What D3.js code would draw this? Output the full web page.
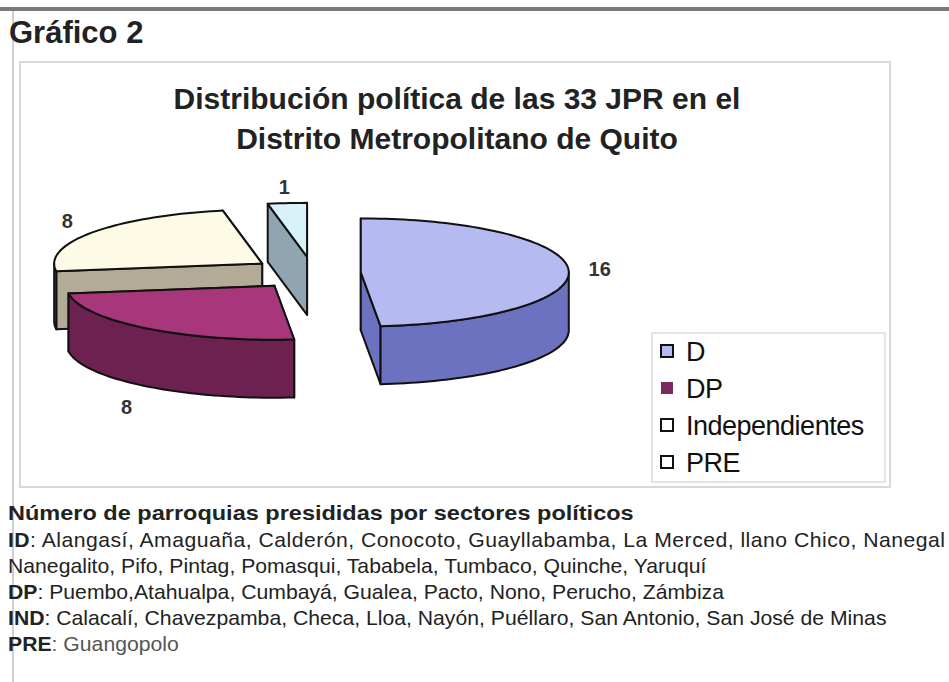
<!doctype html>
<meta charset="utf-8">
<title>Gráfico 2</title>
<script src="https://cdnjs.cloudflare.com/ajax/libs/d3/7.8.5/d3.min.js"></script>
<style>
body { margin: 0; background: #fff; }
svg { display: block; font-family: "Liberation Sans", Arial, sans-serif; }
</style>
<svg id="svg" width="949" height="682"></svg>
<script>
// data
var categories = ["D", "DP", "Independientes", "PRE"];
var values = [16, 8, 8, 1];
var topColors = ["#b5baf0", "#a8367a", "#fdfbe6", "#d8f2f9"];
var sideColors = ["#6c71c0", "#6c2150", "#b4ab97", "#8fa5b2"];
var explode = [0.23, 0.3, 0.3, 0.3];
var notes = [
  ["ID", ":  Alangasí, Amaguaña, Calderón, Conocoto, Guayllabamba, La Merced, llano Chico, Nanegal"],
  ["", "Nanegalito, Pifo, Pintag, Pomasqui, Tababela, Tumbaco, Quinche, Yaruquí"],
  ["DP", ": Puembo,Atahualpa, Cumbayá, Gualea, Pacto, Nono, Perucho, Zámbiza"],
  ["IND", ": Calacalí, Chavezpamba, Checa, Lloa, Nayón, Puéllaro, San Antonio, San José de Minas"],
  ["PRE", ": Guangopolo"]
];

var svg = d3.select("svg");

// page decoration
svg.append("rect").attr("x", 0).attr("y", 7).attr("width", 949).attr("height", 4).attr("fill", "#7a7a7a");
svg.append("line").attr("x1", 13).attr("x2", 13).attr("y1", 11).attr("y2", 682)
  .attr("stroke", "#cfcfcf").attr("stroke-width", 2);
svg.append("text").attr("x", 9).attr("y", 43)
  .attr("font-size", 31).attr("font-weight", "bold").attr("fill", "#222")
  .text("Gráfico 2");

// chart frame
svg.append("rect").attr("x", 20).attr("y", 62).attr("width", 870).attr("height", 425)
  .attr("fill", "#fff").attr("stroke", "#d9d9d9").attr("stroke-width", 2);

svg.append("text").attr("x", 457).attr("text-anchor", "middle")
  .attr("font-size", 30).attr("font-weight", "bold").attr("fill", "#222")
  .selectAll("tspan")
  .data(["Distribución política de las 33 JPR en el", "Distrito Metropolitano de Quito"])
  .join("tspan").attr("x", 457).attr("y", function(d, i) { return 109 + i * 40; })
  .text(function(d) { return d; });

// 3d pie
var cx = 313, cy = 273, rx = 208, ry = 54, depth = 58;
var sx = d3.scaleLinear().domain([-1, 1]).range([-rx, rx]);
var sy = d3.scaleLinear().domain([-1, 1]).range([-ry, ry]);
var pie = d3.pie().sort(null).startAngle(0).endAngle(2 * Math.PI);
var arcs = pie(values);
var line = d3.line();

function pt(c, a, r, h) {
  return [c[0] + sx(r * Math.sin(a)), c[1] + sy(-r * Math.cos(a)) + (h || 0)];
}
function arcPts(c, a0, a1, h) {
  var n = Math.max(2, Math.ceil((a1 - a0) / 0.03));
  return d3.range(n + 1).map(function(k) { return pt(c, a0 + (a1 - a0) * k / n, 1, h); });
}

arcs.forEach(function(d, i) {
  d.index = i;
  d.mid = (d.startAngle + d.endAngle) / 2;
  d.c = pt([cx, cy], d.mid, explode[i], 0);
});

var order = arcs.slice().sort(function(a, b) { return -Math.cos(a.mid) - -Math.cos(b.mid); });

var g = svg.append("g").attr("stroke", "#111").attr("stroke-width", 2).attr("stroke-linejoin", "round");

order.forEach(function(d) {
  var s = g.append("g");
  var c = d.c, i = d.index;
  // cut faces, the one turned away from the viewer first
  var walls = [
    { a: d.startAngle, v: -Math.sin(d.startAngle) },
    { a: d.endAngle, v: Math.sin(d.endAngle) }
  ].sort(function(p, q) { return p.v - q.v; });
  walls.forEach(function(w) {
    var e = pt(c, w.a, 1, 0);
    s.append("path").attr("fill", sideColors[i])
      .attr("d", line([c, e, [e[0], e[1] + depth], [c[0], c[1] + depth]]) + "Z");
  });
  var f0 = Math.max(d.startAngle, Math.PI / 2), f1 = Math.min(d.endAngle, 3 * Math.PI / 2);
  if (f1 > f0) {
    var topA = arcPts(c, f0, f1, 0), botA = arcPts(c, f0, f1, depth).reverse();
    s.append("path").attr("fill", sideColors[i]).attr("d", line(topA.concat(botA)) + "Z");
  }
  s.append("path").attr("fill", topColors[i])
    .attr("d", line([c].concat(arcPts(c, d.startAngle, d.endAngle, 0))) + "Z");
});

// data labels
svg.append("g").selectAll("text").data(arcs).join("text")
  .attr("font-size", 20).attr("font-weight", "bold").attr("fill", "#333")
  .attr("text-anchor", "middle").attr("dy", "0.35em")
  .attr("x", function(d) { return pt(d.c, d.mid, 1.15, 0)[0]; })
  .attr("y", function(d) {
    var p = pt(d.c, d.mid, 1.2, 0), v = -Math.cos(d.mid);
    return v > 0.3 ? p[1] + depth + 12 : (v < -0.3 ? p[1] - 5 : p[1]);
  })
  .text(function(d) { return d.value; });

// legend
var lg = svg.append("g");
lg.append("rect").attr("x", 652).attr("y", 333).attr("width", 233).attr("height", 149)
  .attr("fill", "#fff").attr("stroke", "#dcdcdc").attr("stroke-width", 1.5);
var li = lg.selectAll("g.item").data(categories).join("g").attr("class", "item")
  .attr("transform", function(d, i) { return "translate(660," + (351 + i * 37) + ")"; });
li.append("rect").attr("x", 1).attr("y", -6).attr("width", 12).attr("height", 12)
  .attr("fill", function(d, i) { return i === 1 ? "#7a2a5c" : (i === 0 ? topColors[0] : "#fff"); })
  .attr("stroke", function(d, i) { return i === 1 ? "none" : "#111"; })
  .attr("stroke-width", 2);
li.append("text").attr("x", 26).attr("dy", "0.36em").attr("font-size", 27)
  .attr("fill", "#111").attr("letter-spacing", -0.5)
  .text(function(d) { return d; });

// notes below chart (slightly stretched, as in the scan)
var headG = svg.append("g").attr("transform", "translate(8,0) scale(1.12,1)");
headG.append("text").attr("x", 0).attr("y", 520).attr("font-size", 21).attr("font-weight", "bold")
  .attr("fill", "#222").text("Número de parroquias presididas por sectores políticos");
var stretch = 1.06;
var notesG = svg.append("g").attr("transform", "translate(8,0) scale(" + stretch + ",1)");
var nt = notesG.selectAll("text.note").data(notes).join("text").attr("class", "note")
  .attr("x", 0).attr("y", function(d, i) { return 547 + i * 26; })
  .attr("font-size", 20).attr("fill", "#222");
// first line of the paragraph is justified to the full width
nt.filter(function(d, i) { return i === 0; })
  .attr("textLength", (945 - 8) / stretch).attr("lengthAdjust", "spacing");
nt.append("tspan").attr("font-weight", "bold").text(function(d) { return d[0]; });
nt.append("tspan").attr("fill", function(d, i) { return i === 4 ? "#555" : "#222"; })
  .text(function(d) { return d[1]; });
</script>
